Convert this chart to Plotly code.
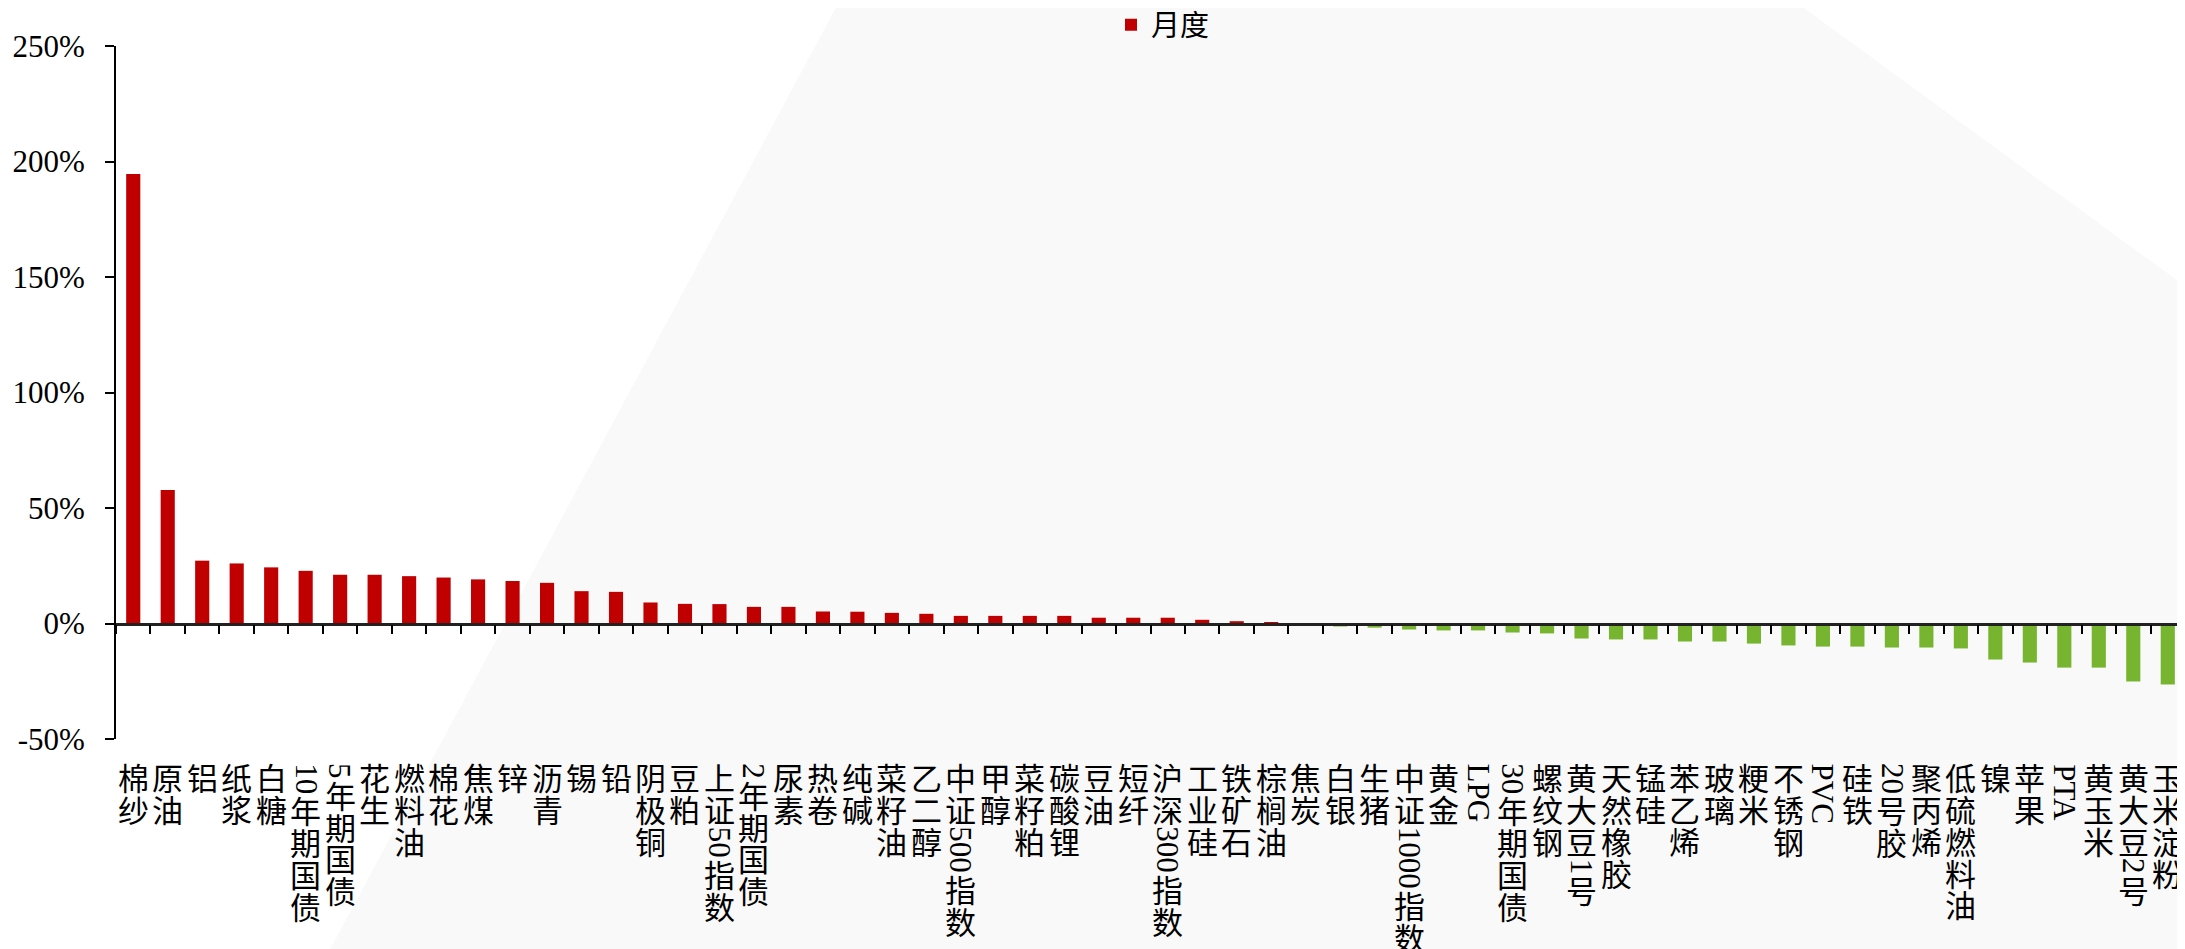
import re
import plotly.graph_objects as go

# ---------------- data ----------------
categories = ["棉纱", "原油", "铝", "纸浆", "白糖", "10年期国债", "5年期国债", "花生", "燃料油", "棉花",
              "焦煤", "锌", "沥青", "锡", "铅", "阴极铜", "豆粕", "上证50指数", "2年期国债", "尿素",
              "热卷", "纯碱", "菜籽油", "乙二醇", "中证500指数", "甲醇", "菜籽粕", "碳酸锂", "豆油", "短纤",
              "沪深300指数", "工业硅", "铁矿石", "棕榈油", "焦炭", "白银", "生猪", "中证1000指数", "黄金", "LPG",
              "30年期国债", "螺纹钢", "黄大豆1号", "天然橡胶", "锰硅", "苯乙烯", "玻璃", "粳米", "不锈钢", "PVC",
              "硅铁", "20号胶", "聚丙烯", "低硫燃料油", "镍", "苹果", "PTA", "黄玉米", "黄大豆2号", "玉米淀粉"]

monthly = [194.6, 57.8, 27.2, 26.0, 24.3, 22.8, 21.1, 21.1, 20.5, 19.9,
           19.1, 18.4, 17.6, 14.0, 13.7, 9.1, 8.5, 8.4, 7.2, 7.2,
           5.2, 5.1, 4.6, 4.2, 3.3, 3.3, 3.3, 3.3, 2.5, 2.5,
           2.5, 1.6, 1.0, 0.4, -0.4, -1.3, -1.8, -2.6, -3.0, -3.0,
           -3.9, -4.3, -6.5, -6.9, -6.9, -7.8, -7.8, -8.7, -9.5, -10.0,
           -10.0, -10.4, -10.4, -10.8, -15.6, -16.9, -19.1, -19.1, -25.1, -26.4]

series_name = "月度"
y_ticks = [-50, 0, 50, 100, 150, 200, 250]

# ---------------- style ----------------
# the page body has an 8px margin, so the figure is drawn 8px smaller and all
# reference pixel positions are shifted by that offset
OFF = 8
W, H = 2185 - OFF, 949 - OFF
ML, MR, MT = 116 - OFF, 0, 46 - OFF
PLOT_BOTTOM = 738.6 - OFF
MB = H - PLOT_BOTTOM
PLOT_H = H - MT - MB
PLOT_W = W - ML - MR
RED = "#C00000"
GREEN = "#77B530"
CJK_FONT = "Noto Sans CJK SC"
SERIF = "Liberation Serif"

colors = [RED if v >= 0 else GREEN for v in monthly]

fig = go.Figure()
fig.add_trace(go.Bar(x=categories, y=monthly, name=series_name,
                     marker=dict(color=colors, line=dict(width=0)),
                     showlegend=True))

ymin, ymax = -50, 250

# background decorative polygon (reference pixel coordinates -> paper)
def px2paper(px, py):
    return (px - OFF - ML) / PLOT_W, (PLOT_BOTTOM - (py - OFF)) / PLOT_H

poly = [(840, 0), (1793, 0), (2185, 286), (2185, 949), (330, 949)]
pts = [px2paper(a, b) for a, b in poly]
path = "M " + " L ".join(f"{x:.5f},{y:.5f}" for x, y in pts) + " Z"

# ---------------- category labels (stacked vertically) ----------------
FS = 31
CJK_PITCH = 31.7
SERIF_W = {c: 0.5 for c in "0123456789"}
SERIF_W.update({"L": 0.611, "P": 0.556, "G": 0.722, "V": 0.722, "C": 0.667, "T": 0.611, "A": 0.722})
annotations = []
for cat in categories:
    cursor = 762.0 - OFF
    for seg in re.findall(r"[A-Za-z0-9]+|.", cat):
        if re.match(r"[A-Za-z0-9]", seg):
            w = sum(SERIF_W.get(ch, 0.6) for ch in seg) * FS
            center = cursor + w / 2 + 1
            annotations.append(dict(x=cat, xref="x", y=0, yref="paper", yanchor="middle", xanchor="center",
                                    yshift=PLOT_BOTTOM - center, text=seg, textangle=90, showarrow=False,
                                    font=dict(family=SERIF, size=FS, color="black")))
            cursor += w + 2
        else:
            center = cursor + 14.5
            annotations.append(dict(x=cat, xref="x", y=0, yref="paper", yanchor="middle", xanchor="center",
                                    yshift=PLOT_BOTTOM - center, text=seg, showarrow=False,
                                    font=dict(family=CJK_FONT, size=FS, color="black")))
            cursor += CJK_PITCH

fig.update_layout(
    width=W, height=H,
    margin=dict(l=ML, r=MR, t=MT, b=MB, pad=0, autoexpand=False),
    paper_bgcolor="white", plot_bgcolor="rgba(0,0,0,0)",
    bargap=0.59,
    showlegend=True,
    legend=dict(x=(1163 - OFF) / W, xref="container", xanchor="center",
                y=1 - (25 - OFF) / H, yref="container", yanchor="middle", orientation="h",
                font=dict(family=CJK_FONT, size=29, color="black"), bgcolor="rgba(0,0,0,0)"),
    shapes=[dict(type="path", xref="paper", yref="paper", path=path, fillcolor="#f9f9f9",
                 line=dict(width=0), layer="below")],
    annotations=annotations,
    xaxis=dict(type="category", anchor="free", position=(0 - ymin) / (ymax - ymin),
               showline=True, linecolor="#222", linewidth=2.5,
               ticks="outside", ticklen=9, tickwidth=2, tickcolor="black", tickson="boundaries",
               showticklabels=False, showgrid=False, zeroline=False, automargin=False,
               range=[-0.5, len(categories) - 0.5]),
    yaxis=dict(range=[ymin, ymax], tickvals=y_ticks, ticktext=[f"{v}%" for v in y_ticks],
               showline=True, linecolor="black", linewidth=2,
               ticks="outside", ticklen=9, tickwidth=2, tickcolor="black",
               ticklabelstandoff=14, automargin=False,
               tickfont=dict(family=SERIF, size=31, color="black"),
               showgrid=False, zeroline=False),
)

fig.write_html("out.html")
